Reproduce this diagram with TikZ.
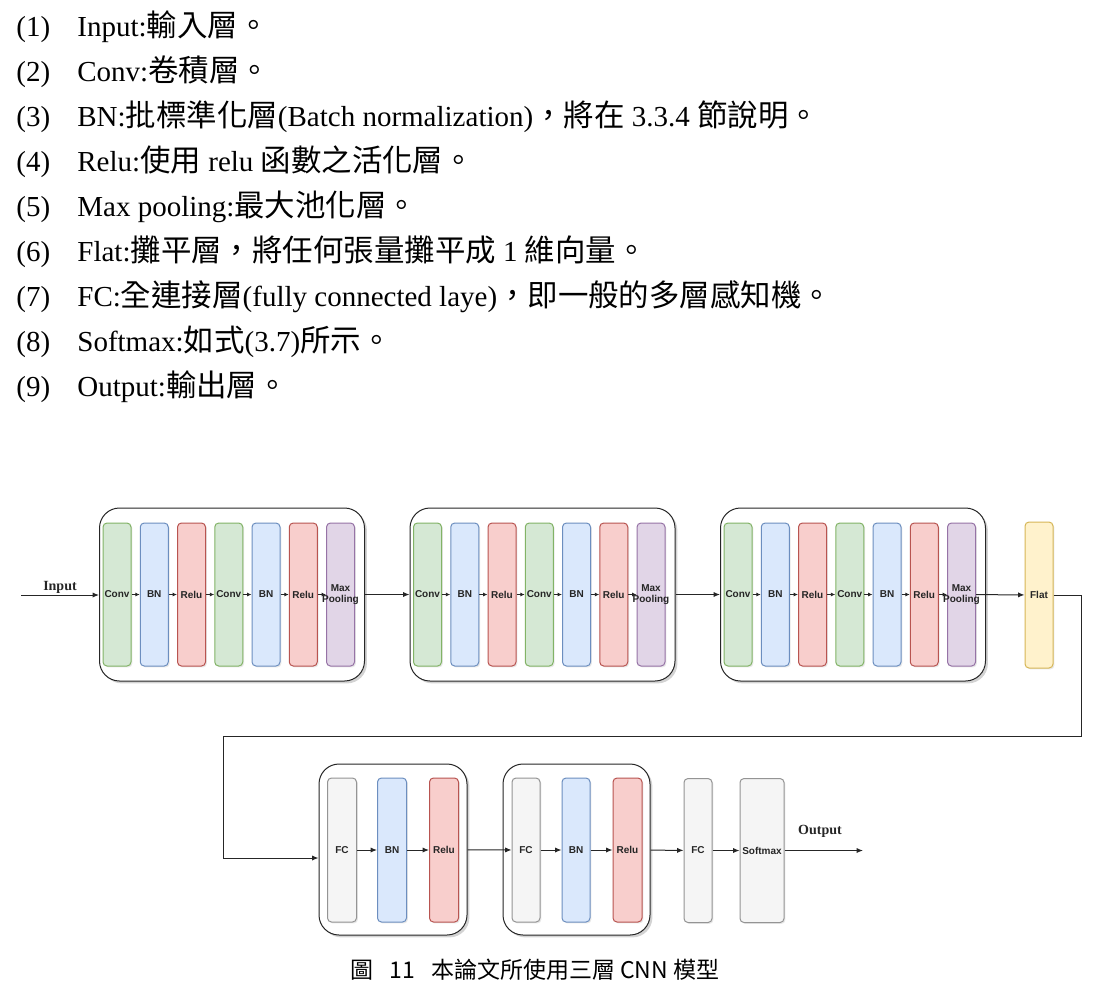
\documentclass[tikz,border=0pt]{standalone}
\usepackage{fontspec}
\setmainfont{Liberation Serif}
\setsansfont{Liberation Sans}
\newfontfamily\cjk[Scale=1.05]{Noto Sans CJK TC}
\usetikzlibrary{arrows.meta,shadows}
\definecolor{gF}{HTML}{D5E8D4}\definecolor{gS}{HTML}{82B366}
\definecolor{bF}{HTML}{DAE8FC}\definecolor{bS}{HTML}{6C8EBF}
\definecolor{rF}{HTML}{F8CECC}\definecolor{rS}{HTML}{B85450}
\definecolor{pF}{HTML}{E1D5E7}\definecolor{pS}{HTML}{9673A6}
\definecolor{yF}{HTML}{FFF2CC}\definecolor{yS}{HTML}{D6B656}
\definecolor{wF}{HTML}{F5F5F5}\definecolor{wS}{HTML}{666666}
\begin{document}
\begin{tikzpicture}[x=0.5pt,y=-0.5pt,
  item/.style={anchor=base west, inner sep=0pt, font=\fontsize{14.5}{17}\selectfont},
  bar/.style={draw, rounded corners=2pt, inner sep=0pt, minimum width=14pt, minimum height=71.5pt, line width=0.5pt,
    drop shadow={shadow xshift=0.7pt, shadow yshift=-0.7pt, opacity=0.18}},
  conv/.style={bar, fill=gF, draw=gS},
  bnbar/.style={bar, fill=bF, draw=bS},
  relubar/.style={bar, fill=rF, draw=rS},
  pool/.style={bar, fill=pF, draw=pS},
  flatbar/.style={bar, fill=yF, draw=yS, minimum height=73pt},
  fcbar/.style={bar, fill=wF, draw=wS!70, minimum height=72pt},
  grp/.style={draw=black!85, fill=white, rounded corners=10pt, line width=0.5pt, inner sep=0pt,
    drop shadow={shadow xshift=1.2pt, shadow yshift=-1.2pt, opacity=0.35}},
  lbl/.style={font=\sffamily\bfseries\fontsize{5}{5.8}\selectfont, align=center, inner sep=0pt, text=black!85},
  io/.style={font=\bfseries\fontsize{7}{8}\selectfont, inner sep=0pt, text=black!85},
  arr/.style={line width=0.5pt, draw=black!85, -{Latex[length=3.2pt,width=2.6pt]}},
  arrS/.style={line width=0.5pt, draw=black!85, -{Latex[length=2.2pt,width=2pt]}},
  captxt/.style={font=\cjk\fontsize{10.95}{13}\selectfont, inner sep=0pt}
]
\useasboundingbox (0,0) rectangle (1107,992);

% ---------- text list ----------
\node[item] (n1) at (16,36.5) {(1)};
\node[item] (l1) at (77,36.5) {Input:{\cjk 輸入層。}};
\node[item] (n2) at (16,81.5) {(2)};
\node[item] (l2) at (77,81.5) {Conv:{\cjk 卷積層。}};
\node[item] (n3) at (16,126.5) {(3)};
\node[item] (l3) at (77,126.5) {BN:{\cjk 批標準化層}(Batch normalization){\cjk ，將在} 3.3.4 {\cjk 節說明。}};
\node[item] (n4) at (16,171.5) {(4)};
\node[item] (l4) at (77,171.5) {Relu:{\cjk 使用} relu {\cjk 函數之活化層。}};
\node[item] (n5) at (16,216.5) {(5)};
\node[item] (l5) at (77,216.5) {Max pooling:{\cjk 最大池化層。}};
\node[item] (n6) at (16,261.5) {(6)};
\node[item] (l6) at (77,261.5) {Flat:{\cjk 攤平層，將任何張量攤平成} 1 {\cjk 維向量。}};
\node[item] (n7) at (16,306.5) {(7)};
\node[item] (l7) at (77,306.5) {FC:{\cjk 全連接層}(fully connected laye){\cjk ，即一般的多層感知機。}};
\node[item] (n8) at (16,351.5) {(8)};
\node[item] (l8) at (77,351.5) {Softmax:{\cjk 如式}(3.7){\cjk 所示。}};
\node[item] (n9) at (16,396.5) {(9)};
\node[item] (l9) at (77,396.5) {Output:{\cjk 輸出層。}};

% ---------- row 1 ----------
\foreach \g/\sx in {1/103,2/413.5,3/724}{
  \node[grp, minimum width=132.5pt, minimum height=86.5pt] (g\g) at ({\sx+129},594.5) {};
  \foreach \st/\lb [count=\i from 0] in {conv/Conv,bnbar/BN,relubar/Relu,conv/Conv,bnbar/BN,relubar/Relu,pool/{Max\\Pooling}}
    \node[\st, label={[lbl]center:\lb}] (b\g-\i) at ({\sx+14+37.25*\i},594.5) {};
  \foreach \i [evaluate=\i as \j using int(\i+1)] in {0,...,5}
    \draw[arrS] (b\g-\i) -- (b\g-\j);
}
\node[flatbar, label={[lbl]center:Flat}] (flatn) at (1039,595) {};

\coordinate (inp) at (21,595);
\node[io] (inlbl) at (60,587) {Input};
\draw[arr] (inp) -- (inp -| g1.west);
\draw[arr] (g1) -- (g2);
\draw[arr] (g2) -- (g3);
\draw[arr] (b3-6) -- (flatn);

\coordinate (k1) at (1081,595);
\coordinate (k2) at (1081,736);
\coordinate (k3) at (223,736);
\coordinate (k4) at (223,858);

% ---------- row 2 ----------
\node[grp, minimum width=74pt, minimum height=85.5pt] (g4) at (393,849.5) {};
\node[grp, minimum width=73.5pt, minimum height=85.5pt] (g5) at (576.5,849.5) {};
\node[fcbar, minimum width=14.5pt, label={[lbl]center:FC}] (fc4) at (342,850) {};
\node[bnbar, minimum width=14.5pt, minimum height=72pt, label={[lbl]center:BN}] (bn4) at (392,850) {};
\node[relubar, minimum width=14.5pt, minimum height=72pt, label={[lbl]center:Relu}] (re4) at (444,850) {};
\node[fcbar, label={[lbl]center:FC}] (fc5) at (526,850) {};
\node[bnbar, minimum height=72pt, label={[lbl]center:BN}] (bn5) at (576,850) {};
\node[relubar, minimum width=14.5pt, minimum height=72pt, label={[lbl]center:Relu}] (re5) at (627.5,850) {};
\node[fcbar, label={[lbl]center:FC}] (fc6) at (698,850.5) {};
\node[fcbar, minimum width=22pt, label={[lbl]center:Softmax}] (sm) at (762,850.5) {};
\coordinate (outp) at (863,849);
\node[io] (outlbl) at (820,831) {Output};

\draw[arr] (flatn.east) -- (k1) -- (k2) -- (k3) -- (k4) -- (k4 -| g4.west);
\draw[arr] (fc4) -- (bn4);
\draw[arr] (bn4) -- (re4);
\draw[arr] (g4) -- (fc5);
\draw[arr] (fc5) -- (bn5);
\draw[arr] (bn5) -- (re5);
\draw[arr] (g5) -- (fc6);
\draw[arr] (fc6) -- (sm);
\draw[arr] (sm.east) -- (outp |- sm.east);

% ---------- caption ----------
\node[captxt] (capn) at (535,970) {圖\hspace{8pt}11\hspace{8pt}本論文所使用三層 CNN 模型};
\end{tikzpicture}
\end{document}
